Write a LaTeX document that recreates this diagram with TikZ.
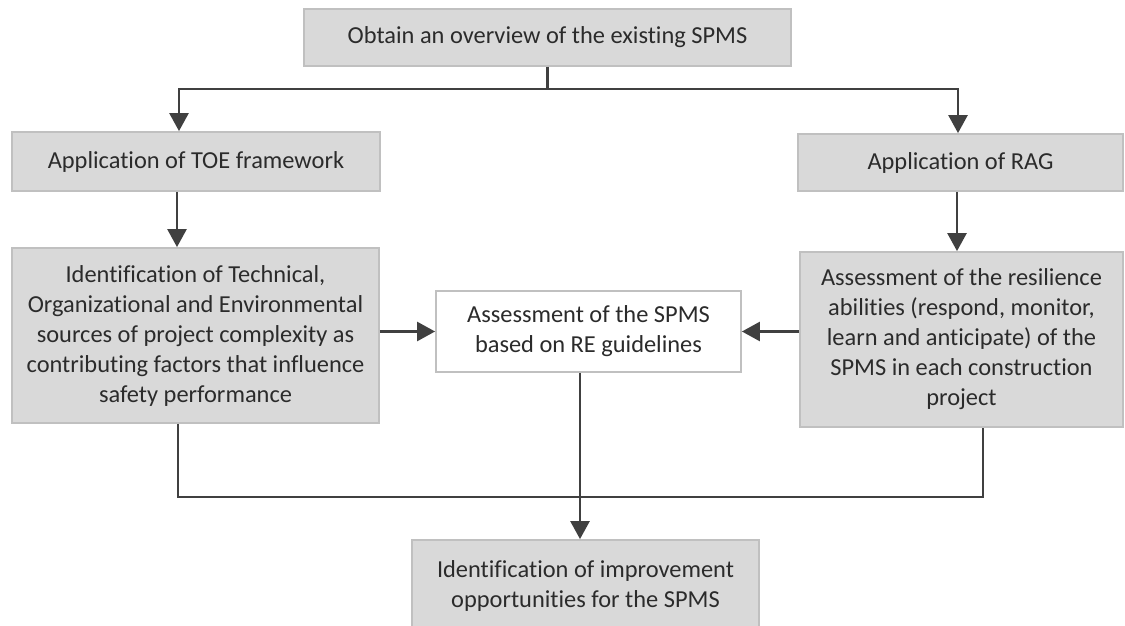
\documentclass[tikz,border=0pt]{standalone}
\usepackage{fontspec}
\setmainfont{Carlito}[Ligatures={NoCommon}]
\usetikzlibrary{arrows.meta}
\definecolor{boxfill}{HTML}{D9D9D9}
\definecolor{boxline}{HTML}{C0C0C0}
\definecolor{linkcol}{HTML}{404040}
\definecolor{txtcol}{HTML}{2B2B2B}
\begin{document}
\begin{tikzpicture}[x=0.5pt,y=-0.5pt,
  box/.style={draw=boxline, line width=0.9pt, fill=boxfill, align=center,
    inner sep=0pt, text=txtcol, font=\fontsize{12.2}{15}\selectfont},
  whitebox/.style={box, fill=white},
  plain/.style={draw=linkcol, line width=1.3pt, line join=miter},
  link/.style={plain, -{Triangle[width=9.5pt,length=9pt]}}]
\useasboundingbox (0,0) rectangle (1125,626);
\clip (0,0) rectangle (1125,626);

% boxes
\node[box, minimum width=243.5pt, minimum height=28.5pt] (top) at (547.5,37.5)
  {Obtain an overview of the existing SPMS};
\node[box, minimum width=184pt, minimum height=29.5pt] (toe) at (196,161.5)
  {Application of TOE framework};
\node[box, minimum width=162.5pt, minimum height=28.5pt] (rag) at (960.5,162.5)
  {Application of RAG};
\node[box, minimum width=183.5pt, minimum height=87.5pt] (tech) at (195.5,335.5)
  {Identification of Technical,\\Organizational and Environmental\\sources of project complexity as\\contributing factors that influence\\safety performance};
\node[box, minimum width=161.5pt, minimum height=87.5pt] (res) at (961.5,339.5)
  {Assessment of the resilience\\abilities (respond, monitor,\\learn and anticipate) of the\\SPMS in each construction\\project};
\node[whitebox, minimum width=152.5pt, minimum height=40.5pt] (mid) at (588.5,331.5)
  {Assessment of the SPMS\\based on RE guidelines};
\node[box, minimum width=173.5pt, minimum height=46pt] (imp) at (585.5,586)
  {Identification of improvement\\opportunities for the SPMS};

% routing points
\coordinate (jl) at (179,89);
\coordinate (jr) at (958,89);
\coordinate (xl) at (177,0);
\coordinate (xr) at (957,0);
\coordinate (bl) at (178,497);
\coordinate (br) at (983,497);
\coordinate (xm) at (580,0);

% connectors
\draw[link] (top.south) |- (jl) -- (jl |- toe.north);
\draw[link] (top.south) |- (jr) -- (jr |- rag.north);
\draw[link] (toe.south -| xl) -- (tech.north -| xl);
\draw[link] (rag.south -| xr) -- (res.north -| xr);
\draw[link] (tech.east |- mid.west) -- (mid.west);
\draw[link] (res.west |- mid.east) -- (mid.east);
\draw[plain] (tech.south -| bl) -- (bl) -- (br) -- (res.south -| br);
\draw[link] (mid.south -| xm) -- (imp.north -| xm);
\end{tikzpicture}
\end{document}
